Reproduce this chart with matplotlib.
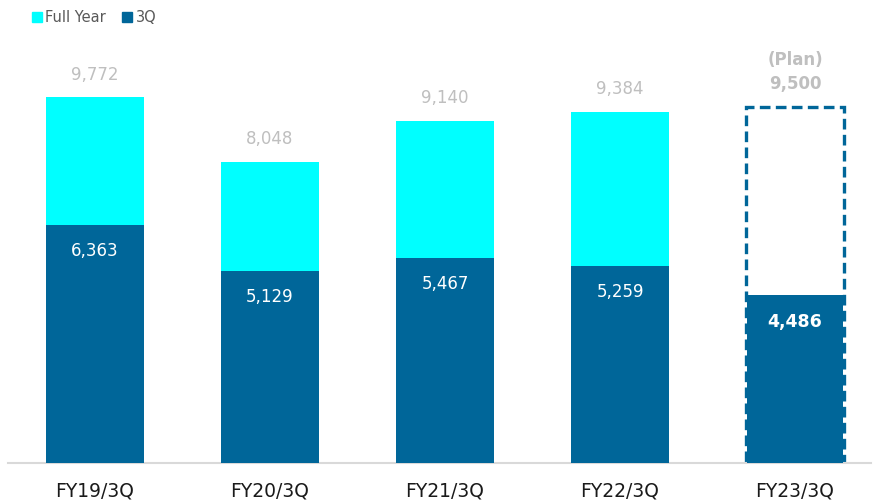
import matplotlib
matplotlib.use("Agg")
import matplotlib.pyplot as plt
from matplotlib.patches import Rectangle

categories = ["FY19/3Q", "FY20/3Q", "FY21/3Q", "FY22/3Q", "FY23/3Q"]
full_year = [9772, 8048, 9140, 9384, 9500]
q3 = [6363, 5129, 5467, 5259, 4486]
plan_flags = [False, False, False, False, True]

CYAN = "#00FFFF"
NAVY = "#006699"
GRAY = "#BFBFBF"

plt.rcParams["font.family"] = ["DejaVu Sans"]

fig = plt.figure(figsize=(8.75, 5.01), dpi=100)
ax = fig.add_axes([8 / 875, 38 / 501, 863 / 875, 463 / 501])

x = list(range(len(categories)))
width = 0.555

for i, (fy, q, plan) in enumerate(zip(full_year, q3, plan_flags)):
    if plan:
        ax.add_patch(Rectangle((i - width / 2, 0), width, fy, facecolor="white",
                               edgecolor=NAVY, linestyle=(0, (3.2, 1.6)),
                               linewidth=2.4, zorder=2))
        ax.bar(i, q, width=width * 0.985, color=NAVY, zorder=3)
        ax.text(i, fy + 380, f"(Plan)\n{fy:,}", ha="center", va="bottom",
                color=GRAY, fontsize=12, fontweight="bold", linespacing=1.45)
        ax.text(i, q - 720, f"{q:,}", ha="center", va="center",
                color="white", fontsize=12.5, fontweight="bold")
    else:
        ax.bar(i, fy, width=width, color=CYAN, zorder=2)
        ax.bar(i, q, width=width, color=NAVY, zorder=3)
        ax.text(i, fy + 600, f"{fy:,}", ha="center", va="center",
                color=GRAY, fontsize=12)
        ax.text(i, q - 700, f"{q:,}", ha="center", va="center",
                color="white", fontsize=12)

ax.set_xlim(-87 / 175, 4 + 76 / 175)
ax.set_ylim(0, 463 / 0.03745)

for s in ["top", "right", "left"]:
    ax.spines[s].set_visible(False)
ax.spines["bottom"].set_color("#D9D9D9")
ax.spines["bottom"].set_linewidth(1.5)
ax.set_yticks([])
ax.set_xticks(x)
ax.set_xticklabels(categories, fontsize=13.5, color="#1A1A1A")
ax.tick_params(axis="x", length=0, pad=13)

# legend
fig.patches.append(Rectangle((32 / 875, 1 - 22 / 501), 10 / 875, 10 / 501,
                             transform=fig.transFigure, color=CYAN))
fig.text(45 / 875, 1 - 17 / 501, "Full Year", fontsize=10.5, color="#595959",
         va="center", ha="left")
fig.patches.append(Rectangle((122 / 875, 1 - 22 / 501), 10 / 875, 10 / 501,
                             transform=fig.transFigure, color=NAVY))
fig.text(136 / 875, 1 - 17 / 501, "3Q", fontsize=10.5, color="#595959",
         va="center", ha="left")

fig.savefig("out.png", dpi=100)
